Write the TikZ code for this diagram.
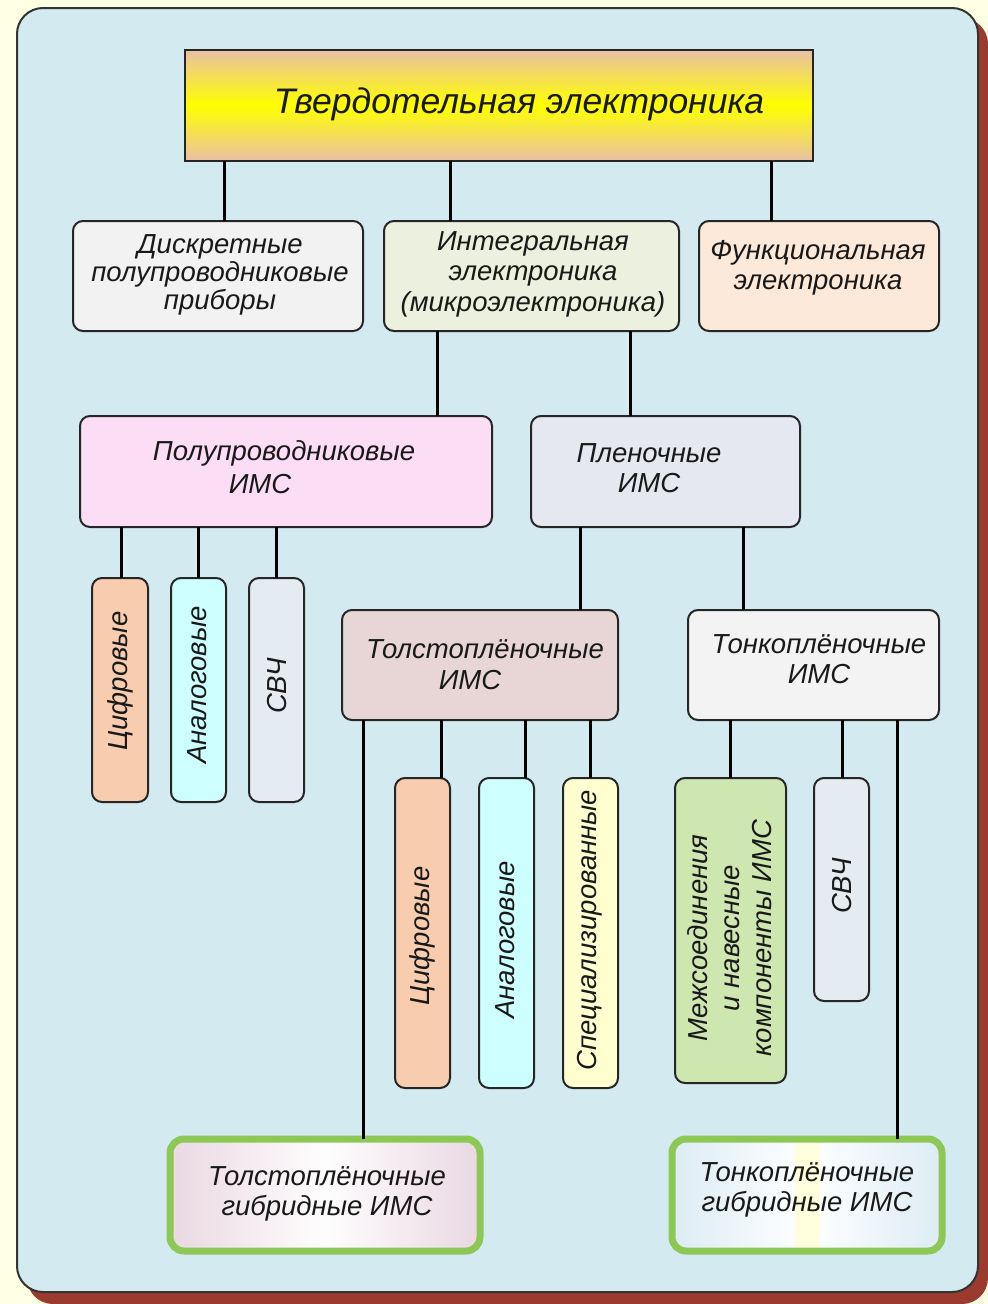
\documentclass[tikz,border=0pt]{standalone}
\usepackage{fontspec}
\setmainfont{Liberation Sans}
\definecolor{pagebg}{RGB}{255,255,228}
\definecolor{panelbg}{RGB}{212,234,241}
\definecolor{shadowred}{RGB}{155,58,46}
\definecolor{salmon}{RGB}{233,192,165}
\definecolor{cDisc}{RGB}{242,242,242}
\definecolor{cInteg}{RGB}{235,241,222}
\definecolor{cFunc}{RGB}{253,233,217}
\definecolor{cSemi}{RGB}{251,221,245}
\definecolor{cFilm}{RGB}{230,232,240}
\definecolor{cDigit}{RGB}{248,204,175}
\definecolor{cAnalog}{RGB}{206,255,255}
\definecolor{cMicro}{RGB}{228,236,242}
\definecolor{cThick}{RGB}{232,214,214}
\definecolor{cThin}{RGB}{243,243,243}
\definecolor{cSpec}{RGB}{255,255,208}
\definecolor{cMezh}{RGB}{206,230,176}
\definecolor{hybGreen}{RGB}{141,200,87}
\definecolor{hybPink}{RGB}{234,216,226}
\definecolor{hybBlue}{RGB}{220,236,244}
\definecolor{stripe}{RGB}{255,255,222}
% box from corner (x1,y1) to corner (x2,y2): style, name, x1, y1, x2, y2
\newcommand\mkbox[6]{\node[#1, minimum width={(#5-#3)*1pt}, minimum height={(#6-#4)*1pt}] (#2) at ({(#3+#5)/2},{(#4+#6)/2}) {};}
\begin{document}
\begin{tikzpicture}[x=1pt,y=-1pt,
  box/.style={draw=black!85, line width=2pt, rounded corners=10pt, inner sep=0pt, outer sep=0pt},
  hybrid/.style={draw=hybGreen, line width=7pt, rounded corners=14pt, inner sep=0pt, outer sep=0pt},
  conn/.style={line width=3pt, black},
  txt/.style={font=\fontsize{27.5}{30.5}\selectfont\itshape, align=center, inner sep=0pt, text=black!90},
  vtxt/.style={txt, rotate=90}]
% page and panel
\fill[pagebg] (0,0) rectangle (988,1304);
\fill[shadowred, rounded corners=26pt] (27,18) rectangle (988,1304);
\draw[fill=panelbg, draw=black!80, line width=2pt, rounded corners=26pt] (17,8) rectangle (978,1292);

% boxes
\mkbox{draw=black!85, line width=2pt, inner sep=0pt, outer sep=0pt, top color=salmon, bottom color=salmon, middle color=yellow}{title}{185}{50}{813}{161}
\mkbox{box, fill=cDisc}{disc}{73}{221}{363}{331}
\mkbox{box, fill=cInteg}{integ}{384}{221}{679}{331}
\mkbox{box, fill=cFunc}{func}{699}{221}{939}{331}
\mkbox{box, fill=cSemi}{semi}{80}{416}{492}{527}
\mkbox{box, fill=cFilm}{film}{531}{416}{800}{527}
\mkbox{box, fill=cDigit}{digA}{92}{578}{148}{802}
\mkbox{box, fill=cAnalog}{anA}{171}{578}{226}{802}
\mkbox{box, fill=cMicro}{mwA}{249}{578}{304}{802}
\mkbox{box, fill=cThick}{thick}{342}{610}{618}{720}
\mkbox{box, fill=cThin}{thin}{688}{610}{939}{720}
\mkbox{box, fill=cDigit}{digB}{395}{778}{450}{1088}
\mkbox{box, fill=cAnalog}{anB}{479}{778}{534}{1088}
\mkbox{box, fill=cSpec}{spec}{563}{778}{618}{1088}
\mkbox{box, fill=cMezh}{mezh}{675}{778}{786}{1083}
\mkbox{box, fill=cMicro}{mwB}{814}{778}{869}{1001}
\mkbox{hybrid, left color=hybPink, right color=hybPink, middle color=white!96!hybPink}{hthick}{170}{1139}{480}{1251}
\mkbox{hybrid, left color=hybBlue, right color=hybBlue, middle color=white}{hthin}{672}{1139}{942}{1251}
\fill[stripe] (795,1143) rectangle (820,1247);

% connectors
\draw[conn] (224,0 |- title.south) -- (224,0 |- disc.north);
\draw[conn] (450,0 |- title.south) -- (450,0 |- integ.north);
\draw[conn] (771,0 |- title.south) -- (771,0 |- func.north);
\draw[conn] (437,0 |- integ.south) -- (437,0 |- semi.north);
\draw[conn] (630,0 |- integ.south) -- (630,0 |- film.north);
\draw[conn] (121,0 |- semi.south) -- (121,0 |- digA.north);
\draw[conn] (198,0 |- semi.south) -- (198,0 |- anA.north);
\draw[conn] (276,0 |- semi.south) -- (276,0 |- mwA.north);
\draw[conn] (580,0 |- film.south) -- (580,0 |- thick.north);
\draw[conn] (743,0 |- film.south) -- (743,0 |- thin.north);
\draw[conn] (363,0 |- thick.south) -- (363,0 |- hthick.north);
\draw[conn] (441,0 |- thick.south) -- (441,0 |- digB.north);
\draw[conn] (525,0 |- thick.south) -- (525,0 |- anB.north);
\draw[conn] (590,0 |- thick.south) -- (590,0 |- spec.north);
\draw[conn] (730,0 |- thin.south) -- (730,0 |- mezh.north);
\draw[conn] (842,0 |- thin.south) -- (842,0 |- mwB.north);
\draw[conn] (897,0 |- thin.south) -- (897,0 |- hthin.north);

% texts
\node[txt, font=\fontsize{35.5}{40}\selectfont\itshape] (tTitle) at (519,104) {Твердотельная электроника};
\node[txt, font=\fontsize{27.5}{28}\selectfont\itshape] (tDisc) at (220,275) {Дискретные\\полупроводниковые\\приборы};
\node[txt] (tInteg) at (533,274) {Интегральная\\электроника\\(микроэлектроника)};
\node[txt] (tFunc) at (818,268) {Функциональная\\электроника};
\node[txt] (tSemi1) at (284,453) {Полупроводниковые};
\node[txt] (tSemi2) at (260,484) {ИМС};
\node[txt] (tFilm) at (649,468) {Пленочные\\ИМС};
\node[txt] (tThick1) at (485,649) {Толстоплёночные};
\node[txt] (tThick2) at (470,680) {ИМС};
\node[txt] (tThin) at (819,659) {Тонкоплёночные\\ИМС};
\node[vtxt] (tDigA) at (120,681) {Цифровые};
\node[vtxt] (tAnA) at (197,685) {Аналоговые};
\node[vtxt] (tMwA) at (277,686) {СВЧ};
\node[vtxt] (tDigB) at (422,936) {Цифровые};
\node[vtxt] (tAnB) at (505,940) {Аналоговые};
\node[vtxt] (tSpec) at (590,930) {Специализированные};
\node[vtxt, font=\fontsize{27.5}{32}\selectfont\itshape] (tMezh) at (730,938) {Межсоединения\\и навесные\\компоненты ИМС};
\node[vtxt] (tMwB) at (842,886) {СВЧ};
\node[txt] (tHThick) at (327,1194) {Толстоплёночные\\гибридные ИМС};
\node[txt] (tHThin) at (807,1190) {Тонкоплёночные\\гибридные ИМС};
\end{tikzpicture}
\end{document}
